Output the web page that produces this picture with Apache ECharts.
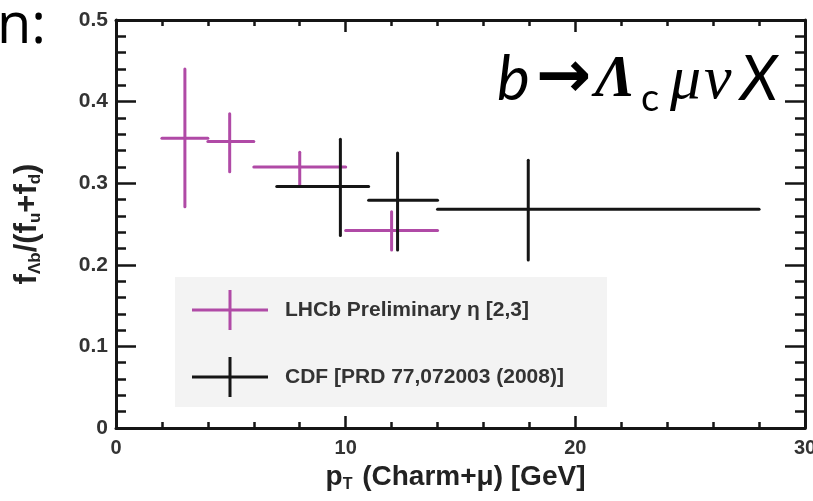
<!DOCTYPE html>
<html>
<head>
<meta charset="utf-8">
<script src="https://cdn.jsdelivr.net/npm/echarts@6/dist/echarts.min.js"></script>
<style>
  html, body { margin: 0; padding: 0; background: #fff; }
  #chart { width: 813px; height: 501px; }
</style>
</head>
<body>
<div id="chart"></div>
<script>
// LHCb preliminary, eta [2,3]
const lhcbPt = [3, 4.95, 8, 12];
const lhcbPtLow = [2, 4, 6, 10];
const lhcbPtHigh = [4, 6, 10, 14];
const lhcbFrac = [0.355, 0.351, 0.320, 0.242];
const lhcbFracLow = [0.271, 0.314, 0.297, 0.218];
const lhcbFracHigh = [0.440, 0.385, 0.338, 0.265];

// CDF PRD 77,072003 (2008)
const cdfPt = [9.77, 12.26, 17.95];
const cdfPtLow = [7, 11, 14];
const cdfPtHigh = [11, 14, 28];
const cdfFrac = [0.296, 0.279, 0.268];
const cdfFracLow = [0.236, 0.218, 0.206];
const cdfFracHigh = [0.354, 0.337, 0.328];

const seriesNames = ['LHCb Preliminary \u03b7 [2,3]', 'CDF [PRD 77,072003 (2008)]'];
const xTicks = { min: 0, max: 30, interval: 10 };
const yTicks = { min: 0, max: 0.5, interval: 0.1 };

const MAGENTA = '#b04aa6';
const BLACK = '#151515';
const FONT = 'Liberation Sans';

function rows(xc, xl, xh, y, yl, yh) {
  return xc.map((v, i) => [v, y[i], xl[i], xh[i], yl[i], yh[i]]);
}

// cross-shaped error bars
function errorBars(color) {
  return function (params, api) {
    const xc = api.value(0), y = api.value(1);
    const left = api.coord([api.value(2), y]);
    const right = api.coord([api.value(3), y]);
    const low = api.coord([xc, api.value(4)]);
    const high = api.coord([xc, api.value(5)]);
    const st = { stroke: color, lineWidth: 3, lineCap: 'round' };
    return {
      type: 'group',
      children: [
        { type: 'line', shape: { x1: left[0], y1: left[1], x2: right[0], y2: right[1] }, style: st },
        { type: 'line', shape: { x1: low[0], y1: low[1], x2: high[0], y2: high[1] }, style: st }
      ]
    };
  };
}

function makeAxis(pos, showLabel, major, minor, extra) {
  return Object.assign({
    type: 'value',
    position: pos,
    axisLine: { show: true, onZero: false, lineStyle: { color: BLACK, width: 3 } },
    axisTick: { show: true, inside: true, length: major, lineStyle: { color: BLACK, width: 2.5 } },
    minorTick: { show: true, splitNumber: 5, length: minor, lineStyle: { color: BLACK, width: 2.5 } },
    splitLine: { show: false },
    minorSplitLine: { show: false },
    axisLabel: {
      show: showLabel, fontSize: 20, fontWeight: 'bold', color: '#333', fontFamily: FONT,
      margin: 10, showMinLabel: true, showMaxLabel: true
    }
  }, extra);
}

const crossIcon = 'path://M0,18.5H76V21.5H0Z M36.5,0H39.5V40H36.5Z';

const chart = echarts.init(document.getElementById('chart'), null, { renderer: 'canvas' });

const option = {
  backgroundColor: '#fff',
  animation: false,
  grid: { left: 116, right: 8, top: 20, bottom: 73, containLabel: false, outerBoundsMode: 'none' },
  xAxis: [
    makeAxis('bottom', true, 12, 6, Object.assign({}, xTicks, {
      name: '{m|p}{s|T}{m| (Charm+\u03bc) [GeV]}',
      nameLocation: 'middle',
      nameGap: 21,
      nameTextStyle: {
        padding: [0, 10, 0, 0],
        rich: {
          m: { fontSize: 28, fontWeight: 'bold', color: '#222', fontFamily: FONT, lineHeight: 30, verticalAlign: 'top' },
          s: { fontSize: 16, fontWeight: 'bold', color: '#222', fontFamily: FONT, lineHeight: 16, verticalAlign: 'bottom', padding: [0, 2, 0, 0] }
        }
      }
    })),
    makeAxis('top', false, 12, 6, xTicks)
  ],
  yAxis: [
    makeAxis('left', true, 20, 10, Object.assign({}, yTicks, {
      axisLabel: { fontSize: 21, fontWeight: 'bold', color: '#333', fontFamily: FONT, margin: 8 },
      name: '{m|f}{s|\u039bb}{m|/(f}{s|u}{m|+f}{s|d}{m|)}',
      nameLocation: 'middle',
      nameRotate: 90,
      nameGap: 72,
      nameTextStyle: {
        rich: {
          m: { fontSize: 31, fontWeight: 'bold', color: '#222', fontFamily: FONT, lineHeight: 32, verticalAlign: 'top' },
          s: { fontSize: 17, fontWeight: 'bold', color: '#222', fontFamily: FONT, lineHeight: 17, verticalAlign: 'bottom' }
        }
      }
    })),
    makeAxis('right', false, 20, 10, yTicks)
  ],
  legend: {
    orient: 'vertical',
    left: 192,
    top: 290,
    padding: 0,
    itemWidth: 76,
    itemHeight: 40,
    itemGap: 27,
    selectedMode: false,
    textStyle: { fontSize: 21, fontWeight: 'bold', color: '#333', fontFamily: FONT, padding: [0, 0, 0, 12] },
    data: [
      { name: seriesNames[0], icon: crossIcon },
      { name: seriesNames[1], icon: crossIcon }
    ]
  },
  graphic: [
    { type: 'rect', z: -1, shape: { x: 175, y: 277, width: 432, height: 130 }, style: { fill: '#f3f3f3' } },
    { type: 'text', left: -3, top: -1, style: { text: 'n:', font: '56px "Open Sans"', fill: '#000' } },
    { type: 'text', x: 497, y: 80, style: { text: 'b', font: 'italic 62px Lato', fill: '#000', verticalAlign: 'middle' } },
    { type: 'text', x: 536, y: 80, style: { text: '\u2192', font: 'bold 66px "DejaVu Sans"', fill: '#000', verticalAlign: 'middle' } },
    { type: 'text', x: 595, y: 80, style: { text: '\u039b', font: 'bold italic 60px "Liberation Serif"', fill: '#000', verticalAlign: 'middle' } },
    { type: 'text', x: 641, y: 99, style: { text: 'c', font: '38px Lato', fill: '#000', verticalAlign: 'middle' } },
    { type: 'text', x: 670, y: 82, style: { text: '\u03bc', font: 'italic 62px "Liberation Serif"', fill: '#000', verticalAlign: 'middle' } },
    { type: 'text', x: 704, y: 82, style: { text: '\u03bd', font: 'italic 62px "Liberation Serif"', fill: '#000', verticalAlign: 'middle' } },
    { type: 'text', x: 740, y: 80, style: { text: 'X', font: 'italic 62px Lato', fill: '#000', verticalAlign: 'middle' } }
  ],
  series: [
    {
      name: seriesNames[0],
      type: 'custom',
      xAxisIndex: 0,
      yAxisIndex: 0,
      itemStyle: { color: MAGENTA },
      renderItem: errorBars(MAGENTA),
      encode: { x: [0, 2, 3], y: [1, 4, 5] },
      data: rows(lhcbPt, lhcbPtLow, lhcbPtHigh, lhcbFrac, lhcbFracLow, lhcbFracHigh),
      z: 3
    },
    {
      name: seriesNames[1],
      type: 'custom',
      xAxisIndex: 0,
      yAxisIndex: 0,
      itemStyle: { color: BLACK },
      renderItem: errorBars(BLACK),
      encode: { x: [0, 2, 3], y: [1, 4, 5] },
      data: rows(cdfPt, cdfPtLow, cdfPtHigh, cdfFrac, cdfFracLow, cdfFracHigh),
      z: 4
    }
  ]
};

chart.setOption(option);
</script>
</body>
</html>
